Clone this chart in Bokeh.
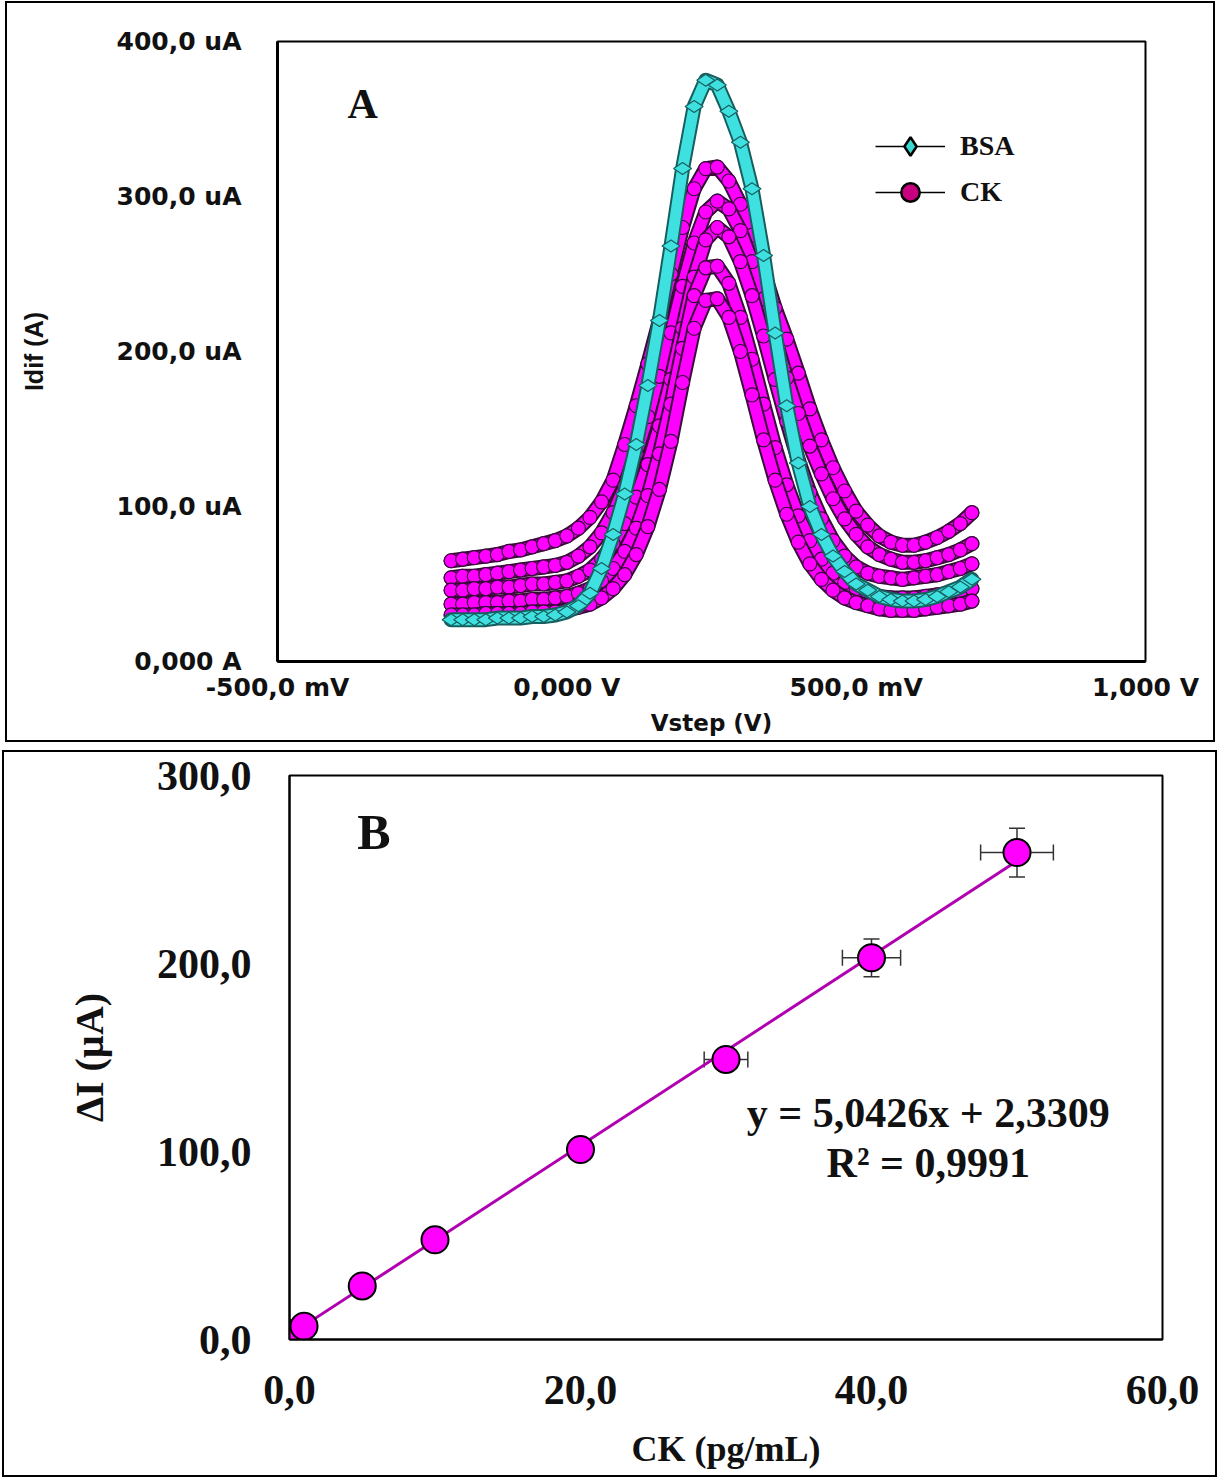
import math
from bokeh.plotting import figure
from bokeh.models import (Range1d, FixedTicker, CustomJSTickFormatter, Legend, LegendItem,
                          Label, Whisker, TeeHead, ColumnDataSource)
from bokeh.embed import file_html
from bokeh.resources import INLINE

# ---------------- Panel A data (DPV curves) ----------------
vstep = [-0.20, -0.18, -0.16, -0.14, -0.12, -0.10, -0.08, -0.06, -0.04, -0.02, 0.00,
         0.02, 0.04, 0.06, 0.08, 0.10, 0.12, 0.14, 0.16, 0.18, 0.20,
         0.22, 0.24, 0.26, 0.28, 0.30, 0.32, 0.34, 0.36, 0.38, 0.40,
         0.42, 0.44, 0.46, 0.48, 0.50, 0.52, 0.54, 0.56, 0.58, 0.60,
         0.62, 0.64, 0.66, 0.68, 0.70]

bsa = [27, 27, 27, 27, 28, 28, 28, 29, 29, 30, 32,
       36, 44, 60, 82, 108, 140, 178, 220, 268, 318,
       358, 375, 372, 355, 335, 305, 262, 212, 165, 128,
       100, 82, 68, 58, 50, 46, 42, 40, 39, 39,
       40, 42, 45, 48, 53]

ck1 = [65, 66, 67, 68, 69, 71, 72, 74, 76, 78, 81,
       86, 93, 103, 117, 140, 165, 192, 220, 250, 280,
       305, 318, 319, 310, 295, 275, 252, 228, 208, 186,
       163, 143, 125, 110, 97, 88, 81, 77, 75, 75,
       77, 80, 84, 89, 96]

ck2 = [54, 55, 55, 56, 57, 58, 59, 60, 61, 62, 64,
       68, 74, 83, 96, 113, 134, 158, 184, 212, 242,
       270, 290, 297, 292, 278, 258, 234, 208, 183, 160,
       139, 121, 105, 92, 82, 74, 69, 66, 64, 64,
       65, 67, 69, 72, 76]

ck3 = [46, 46, 47, 47, 48, 48, 49, 50, 50, 51, 52,
       55, 59, 66, 76, 89, 106, 127, 152, 182, 215,
       248, 272, 280, 274, 258, 236, 210, 182, 155, 130,
       109, 92, 78, 68, 61, 57, 55, 54, 53, 54,
       55, 56, 58, 60, 63]

ck4 = [37, 37, 38, 38, 38, 39, 39, 40, 40, 41, 42,
       44, 47, 52, 60, 71, 86, 107, 134, 166, 202,
       236, 254, 255, 244, 222, 195, 166, 138, 114, 94,
       78, 66, 57, 51, 47, 44, 42, 41, 41, 41,
       42, 43, 44, 45, 47]

ck5 = [30, 30, 30, 31, 31, 31, 31, 32, 32, 32, 33,
       35, 37, 41, 47, 56, 69, 87, 111, 142, 180,
       215, 233, 234, 222, 200, 172, 143, 117, 95, 77,
       63, 53, 46, 41, 38, 36, 34, 33, 33, 33,
       34, 35, 36, 37, 39]

ck_curves = [ck1, ck2, ck3, ck4, ck5]

a_x_ticks = [-0.5, 0.0, 0.5, 1.0]
a_x_labels = ["-500,0 mV", "0,000 V", "500,0 mV", "1,000 V"]
a_y_ticks = [0, 100, 200, 300, 400]
a_y_labels = ["0,000 A", "100,0 uA", "200,0 uA", "300,0 uA", "400,0 uA"]

# ---------------- Panel B data (calibration) ----------------
conc = [0, 1, 5, 10, 20, 30, 40, 50]
delta_i = [3.0, 7.0, 28.5, 53.0, 101.0, 149.0, 203.0, 259.0]
conc_err = [0, 0, 0, 0, 0, 1.5, 2.0, 2.5]
delta_i_err = [0, 0, 0, 0, 0, 6.0, 10.0, 13.0]
slope = 5.0426
intercept = 2.3309
fit_x = [0, 50]
b_x_ticks = [0, 20, 40, 60]
b_y_ticks = [0, 100, 200, 300]

CYAN = "#3FE0E0"
CYAN_DARK = "#175F5F"
MAG = "#FF00FF"
MAG_DARK = "#3A0A3A"
TXT = "#111111"

# ================= Panel A =================
pA = figure(width=1210, height=741, output_backend="svg", toolbar_location=None,
            x_range=Range1d(-0.5, 1.0), y_range=Range1d(0, 400),
            min_border_left=270, min_border_right=72, min_border_top=38, min_border_bottom=83,
            styles={"border": "2px solid black"}, margin=(1, 0, 0, 5))
pA.grid.visible = False
pA.outline_line_color = "black"
pA.outline_line_width = 2

for ax in (pA.xaxis[0], pA.yaxis[0]):
    ax.major_tick_line_color = None
    ax.minor_tick_line_color = None
    ax.axis_line_color = "black"
    ax.axis_line_width = 3
    ax.major_label_text_font = "DejaVu Sans"
    ax.major_label_text_font_style = "bold"
    ax.major_label_text_font_size = "25px"
    ax.major_label_text_color = TXT
    ax.axis_label_text_font_style = "bold"
    ax.axis_label_text_color = TXT

pA.xaxis.ticker = FixedTicker(ticks=a_x_ticks)
pA.xaxis.formatter = CustomJSTickFormatter(args=dict(tv=a_x_ticks, tl=a_x_labels), code="""
for (let i = 0; i < tv.length; i++) { if (Math.abs(tv[i] - tick) < 1e-6) return tl[i]; }
return '';""")
pA.yaxis.ticker = FixedTicker(ticks=a_y_ticks)
pA.yaxis.formatter = CustomJSTickFormatter(args=dict(tv=a_y_ticks, tl=a_y_labels), code="""
for (let i = 0; i < tv.length; i++) { if (Math.abs(tv[i] - tick) < 1e-6) return tl[i]; }
return '';""")
pA.yaxis.major_label_standoff = 30
pA.xaxis.major_label_standoff = 5
pA.xaxis.axis_label = "Vstep (V)"
pA.xaxis.axis_label_text_font = "DejaVu Sans"
pA.xaxis.axis_label_text_font_size = "23px"
pA.xaxis.axis_label_standoff = 5
pA.yaxis.axis_label = "Idif (A)"
pA.yaxis.axis_label_text_font = "Liberation Sans"
pA.yaxis.axis_label_text_font_size = "25px"
pA.yaxis.axis_label_standoff = 66

# legend proxies (hidden renderers: the legend still draws their glyphs)
leg_bsa_line = pA.line(vstep, bsa, line_color="black", line_width=1.5, visible=False)
leg_bsa_mk = pA.scatter(vstep, bsa, marker="diamond", size=22,
                        fill_color="#3AD8D0", line_color="black", line_width=2.5, visible=False)
leg_ck_line = pA.line(vstep, ck1, line_color="black", line_width=1.5, visible=False)
leg_ck_mk = pA.scatter(vstep, ck1, marker="circle", size=22, fill_color="#C8007F",
                       line_color="black", line_width=2.5, visible=False)

# CK curves (tube + markers)
for ys in ck_curves:
    pA.line(vstep, ys, line_color=MAG_DARK, line_width=15, line_join="round", line_cap="round")
    pA.line(vstep, ys, line_color=MAG, line_width=11, line_join="round", line_cap="round")
    pA.scatter(vstep, ys, marker="circle", size=14, fill_color=MAG, line_color=MAG_DARK, line_width=1.2)

# BSA curve
pA.line(vstep, bsa, line_color=CYAN_DARK, line_width=15, line_join="round", line_cap="round")
pA.line(vstep, bsa, line_color=CYAN, line_width=11, line_join="round", line_cap="round")
pA.scatter(vstep, bsa, marker="diamond", angle=math.pi / 2, size=18, fill_color=CYAN,
           line_color=CYAN_DARK, line_width=1.2)

legend = Legend(items=[LegendItem(label="BSA", renderers=[leg_bsa_line, leg_bsa_mk]),
                       LegendItem(label="CK", renderers=[leg_ck_line, leg_ck_mk])],
                location=(598, 446), glyph_width=70, glyph_height=46, spacing=0,
                label_standoff=15, padding=0, margin=0, border_line_color=None,
                background_fill_alpha=0, inactive_fill_alpha=0,
                label_text_font="Liberation Serif",
                label_text_font_style="bold", label_text_font_size="28px",
                label_text_color=TXT)
pA.add_layout(legend)

pA.add_layout(Label(x=-0.353, y=360, text="A", text_font="Liberation Serif", text_font_style="bold",
                    text_font_size="42px", text_align="center", text_baseline="middle",
                    text_color=TXT))

# ================= Panel B =================
pB = figure(width=1215, height=727, output_backend="svg", toolbar_location=None,
            x_range=Range1d(0, 60), y_range=Range1d(0, 300),
            min_border_left=285, min_border_right=57, min_border_top=23, min_border_bottom=140,
            styles={"border": "2px solid black"}, margin=(8, 0, 0, 2))
pB.grid.visible = False
pB.outline_line_color = "black"
pB.outline_line_width = 2
for ax in (pB.xaxis[0], pB.yaxis[0]):
    ax.major_tick_line_color = None
    ax.minor_tick_line_color = None
    ax.axis_line_color = "black"
    ax.axis_line_width = 2
    ax.major_label_text_font = "Liberation Serif"
    ax.major_label_text_font_style = "bold"
    ax.major_label_text_font_size = "42px"
    ax.major_label_text_color = TXT
    ax.axis_label_text_font = "Liberation Serif"
    ax.axis_label_text_font_style = "bold"
    ax.axis_label_text_color = TXT
    ax.formatter = CustomJSTickFormatter(code="return tick.toFixed(1).replace('.', ',');")
pB.xaxis.ticker = FixedTicker(ticks=b_x_ticks)
pB.yaxis.ticker = FixedTicker(ticks=b_y_ticks)
pB.yaxis.major_label_standoff = 32
pB.xaxis.major_label_standoff = 30
pB.xaxis.axis_label = "CK (pg/mL)"
pB.xaxis.axis_label_text_font_size = "36px"
pB.xaxis.axis_label_standoff = 22
pB.yaxis.axis_label = "ΔI (µA)"
pB.yaxis.axis_label_text_font_size = "40px"
pB.yaxis.axis_label_standoff = 42

# error bars
ex = [c for c, e in zip(conc, conc_err) if e > 0]
ey = [d for d, e in zip(delta_i, conc_err) if e > 0]
exe = [e for e in conc_err if e > 0]
eye = [e for e, c in zip(delta_i_err, conc_err) if c > 0]
err_src = ColumnDataSource(dict(
    x=ex, y=ey,
    xl=[a - b for a, b in zip(ex, exe)], xu=[a + b for a, b in zip(ex, exe)],
    yl=[a - b for a, b in zip(ey, eye)], yu=[a + b for a, b in zip(ey, eye)]))
for dim, base, lo, up in (("width", "y", "xl", "xu"), ("height", "x", "yl", "yu")):
    w = Whisker(source=err_src, base=base, lower=lo, upper=up, dimension=dim, level="underlay",
                line_color="#333333", line_width=1.5,
                upper_head=TeeHead(size=16, line_color="#333333", line_width=1.5),
                lower_head=TeeHead(size=16, line_color="#333333", line_width=1.5))
    pB.add_layout(w)

fit_y = [slope * x + intercept for x in fit_x]
pB.line(fit_x, fit_y, line_color="#B000B0", line_width=3)
pB.scatter(conc, delta_i, marker="circle", size=27, fill_color=MAG, line_color="black", line_width=2)

pB.add_layout(Label(x=5.8, y=269.7, text="B", text_font="Liberation Serif", text_font_style="bold",
                    text_font_size="50px", text_align="center", text_baseline="middle",
                    text_color=TXT))
pB.add_layout(Label(x=43.9, y=120.7, text="y = 5,0426x + 2,3309", text_font="Liberation Serif",
                    text_font_style="bold", text_font_size="42px", text_align="center",
                    text_baseline="middle", text_color=TXT))
pB.add_layout(Label(x=43.9, y=94.1, text="R² = 0,9991", text_font="Liberation Serif",
                    text_font_style="bold", text_font_size="42px", text_align="center",
                    text_baseline="middle", text_color=TXT))

open("out.html", "w").write(file_html([pA, pB], INLINE))
